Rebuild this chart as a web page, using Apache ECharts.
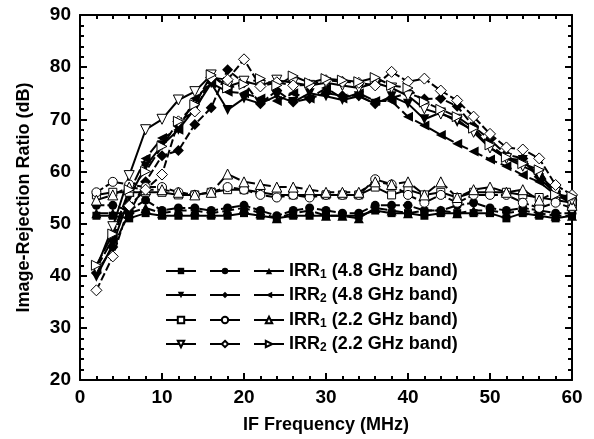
<!DOCTYPE html>
<html>
<head>
<meta charset="utf-8">
<script src="https://cdn.jsdelivr.net/npm/echarts@6/dist/echarts.min.js"></script>
<style>
html,body{margin:0;padding:0;background:#fff;}
#c{width:594px;height:439px;}
</style>
</head>
<body>
<div id="c"></div>
<script>
// IF frequency (MHz)
const freq = [2,4,6,8,10,12,14,16,18,20,22,24,26,28,30,32,34,36,38,40,42,44,46,48,50,52,54,56,58,60];

// IRR1 (4.8 GHz band): filled square, filled circle, filled up-triangle
const irr1_48_a = [51.5,51.5,51,52,51.5,51.5,51.5,51.5,51.5,52,51.5,51,51.5,51.5,51.5,51.5,51.5,52.5,52,52,51.5,52,52,52,52,51,52,51.5,51,51.5];
const irr1_48_b = [53.5,53.5,52.5,54.5,52.5,53,53,52.5,53,53.5,52.5,51.5,52.5,53,52.5,52,52,53.5,53.5,53.5,52.5,52.5,53.5,54,53,52.5,53,52.5,52,52];
const irr1_48_c = [52,52,52,53,52,52.5,52.5,52,52.5,53,52,51,52,52.5,51.5,51.5,51,53,52.5,52,52.5,52.5,52,52.5,52.5,52,52.5,52,51.5,51.5];

// IRR2 (4.8 GHz band): filled down-triangle, filled diamond, filled left-triangle
const irr2_48_a = [39.8,46,55,61,65,68,72,76.9,71.8,74,73,74.5,73.3,75,74.4,73.7,74.4,73,74.4,73,70,71.3,69.5,67.9,64.6,62.5,62.2,58.7,55.8,54.2];
const irr2_48_b = [40.5,45.5,52,58,63,64,69,72.2,79.5,77,73,75.5,73.3,74,75,74.5,74.5,73,74.1,75,73.9,74,72.5,68.6,66.1,63.2,62.5,59,56.1,54.5];
const irr2_48_c = [41.5,47,56,62.5,66.4,68,74,76.9,75.3,75,74,73.5,75,74,76,74,75,73.5,73.5,70.5,68.8,67,65.3,63.8,62.3,61,59.3,58,55.5,54];

// IRR1 (2.2 GHz band): open square, open circle, open up-triangle
const irr1_22_a = [55.5,56,56,56,56,55.5,55.5,56,56.5,56.5,56,55.5,55.5,55.5,55.5,55.5,55.5,57,55.5,56.5,55.5,56,55,56,56,56,55.5,55,54.5,54];
const irr1_22_b = [56,58,57.5,57,57,56,55.5,56,57,56.5,55.5,55,55.5,55,55.5,55.5,55.5,58.5,57.5,55.5,54,55.5,54,55.5,55.5,55.5,54,53,54,53];
const irr1_22_c = [54.5,55.5,57,56.5,56.5,56,55.5,56,59.5,58,57.5,57,57,56.5,56,56,56,58,57.5,58,55.5,58,55,56.5,57,56,56.5,54.5,56,53.5];

// IRR2 (2.2 GHz band): open down-triangle, open diamond, open right-triangle
const irr2_22_a = [41.5,49.4,59.2,68,70,73.7,75.3,78.5,76.3,77.3,76.5,77.5,77,76.5,77,76.5,76,77,76,74.5,72,71,70,67.5,64.5,62.5,61,59.5,56,54.5];
const irr2_22_b = [37.2,43.7,53.4,56.5,59.4,69.6,71.5,78,77.6,81.5,76.3,77.1,76.5,76.6,77.5,77.2,77,76.5,79.1,77.2,77.8,75.5,73.6,70.5,67.2,64.6,64.2,62.5,57.4,55.5];
const irr2_22_c = [42,48,56.5,60,64.8,69.6,72.8,78.5,76,76.7,77.8,76.5,78.3,77,77.8,77.5,77.2,78,76.5,76,73.3,71.9,70.5,68.3,65.1,62.7,61.5,60.3,55.5,55.2];

const xTicks = [0,10,20,30,40,50,60];
const yTicks = [20,30,40,50,60,70,80,90];

const legendRows = [
  {label:'{b|IRR}{s|1}{b| (4.8 GHz band)}'},
  {label:'{b|IRR}{s|2}{b| (4.8 GHz band)}'},
  {label:'{b|IRR}{s|1}{b| (2.2 GHz band)}'},
  {label:'{b|IRR}{s|2}{b| (2.2 GHz band)}'}
];

const defs = [
  {name:'a1', vals:irr1_48_a, sym:'rect', size:8, rot:0, open:false, dash:'solid', row:0},
  {name:'b1', vals:irr1_48_b, sym:'circle', size:9, rot:0, open:false, dash:[8,3], row:0},
  {name:'c1', vals:irr1_48_c, sym:'triangle', size:10, rot:0, open:false, dash:[12,4], row:0},
  {name:'a2', vals:irr2_48_a, sym:'triangle', size:10, rot:180, open:false, dash:'solid', row:1},
  {name:'b2', vals:irr2_48_b, sym:'diamond', size:11, rot:0, open:false, dash:[8,3], row:1},
  {name:'c2', vals:irr2_48_c, sym:'triangle', size:10, rot:90, open:false, dash:[12,4], row:1},
  {name:'a3', vals:irr1_22_a, sym:'rect', size:8, rot:0, open:true, dash:'solid', row:2},
  {name:'b3', vals:irr1_22_b, sym:'circle', size:9, rot:0, open:true, dash:[8,3], row:2},
  {name:'c3', vals:irr1_22_c, sym:'triangle', size:10, rot:0, open:true, dash:[12,4], row:2},
  {name:'a4', vals:irr2_22_a, sym:'triangle', size:10, rot:180, open:true, dash:'solid', row:3},
  {name:'b4', vals:irr2_22_b, sym:'diamond', size:11, rot:0, open:true, dash:[8,3], row:3},
  {name:'c4', vals:irr2_22_c, sym:'triangle', size:10, rot:-90, open:true, dash:[12,4], row:3}
];

const FONT = '"Liberation Sans", Arial, sans-serif';

const series = defs.map(d => ({
  name: d.name,
  type: 'line',
  xAxisIndex: 0,
  yAxisIndex: 0,
  data: freq.map((x, i) => [x, d.vals[i]]),
  symbol: d.sym,
  symbolSize: d.size,
  symbolRotate: d.rot,
  showAllSymbol: true,
  animation: false,
  lineStyle: {color:'#000', width:2, type:d.dash},
  itemStyle: d.open ? {color:'#fff', borderColor:'#000', borderWidth:1} : {color:'#000', borderColor:'#000', borderWidth:0},
  emphasis: {disabled:true}
}));

const rowTops = [262, 286, 311, 335];
const legends = legendRows.map((r, ri) => {
  const names = defs.filter(d => d.row === ri).map(d => d.name);
  return {
    show: true,
    orient: 'horizontal',
    left: 165,
    top: rowTops[ri],
    padding: 0,
    itemWidth: 30,
    itemHeight: 8,
    itemGap: 12,
    selectedMode: false,
    data: names,
    lineStyle: {type: 'solid', width: 2, color: '#000'},
    formatter: function (name) { return name === names[2] ? r.label : ''; },
    textStyle: {
      fontFamily: FONT, fontSize: 18, fontWeight: 'bold', color: '#000',
      rich: {
        b: {fontFamily: FONT, fontSize: 18, fontWeight: 'bold', color:'#000', lineHeight: 20},
        s: {fontFamily: FONT, fontSize: 12, fontWeight: 'bold', color:'#000', lineHeight: 12, verticalAlign: 'bottom'}
      }
    }
  };
});

function mkX(pos, showLabel) {
  return {
    type: 'value', position: pos, min: 0, max: 60, interval: 10,
    name: showLabel ? 'IF Frequency (MHz)' : '',
    nameLocation: 'middle', nameGap: 36,
    nameTextStyle: {fontFamily: FONT, fontSize: 18, fontWeight: 'bold', color:'#000'},
    axisLine: {show: true, onZero: false, lineStyle: {color:'#000', width:2}},
    axisTick: {show: true, inside: true, length: 7, lineStyle: {color:'#000', width:2}},
    minorTick: {show: true, splitNumber: 5, length: 4, lineStyle: {color:'#000', width:2}},
    splitLine: {show: false},
    axisLabel: {show: showLabel, fontFamily: FONT, fontSize: 19, fontWeight: 'bold', color:'#000', margin: 8,
      formatter: v => xTicks.includes(v) ? String(v) : ''}
  };
}
function mkY(pos, showLabel) {
  return {
    type: 'value', position: pos, min: 20, max: 90, interval: 10,
    name: showLabel ? 'Image-Rejection Ratio (dB)' : '',
    nameLocation: 'middle', nameGap: 47, nameRotate: 90,
    nameTextStyle: {fontFamily: FONT, fontSize: 18, fontWeight: 'bold', color:'#000'},
    axisLine: {show: true, onZero: false, lineStyle: {color:'#000', width:2}},
    axisTick: {show: true, inside: true, length: 7, lineStyle: {color:'#000', width:2}},
    minorTick: {show: true, splitNumber: 5, length: 4, lineStyle: {color:'#000', width:2}},
    splitLine: {show: false},
    axisLabel: {show: showLabel, fontFamily: FONT, fontSize: 19, fontWeight: 'bold', color:'#000', margin: 9,
      formatter: v => yTicks.includes(v) ? String(v) : ''}
  };
}

const chart = echarts.init(document.getElementById('c'), null, {renderer: 'canvas'});
chart.setOption({
  animation: false,
  backgroundColor: '#fff',
  grid: {left: 80, right: 22, top: 15, bottom: 59, containLabel: false},
  xAxis: [mkX('bottom', true), mkX('top', false)],
  yAxis: [mkY('left', true), mkY('right', false)],
  legend: legends,
  series: series
});
</script>
</body>
</html>
